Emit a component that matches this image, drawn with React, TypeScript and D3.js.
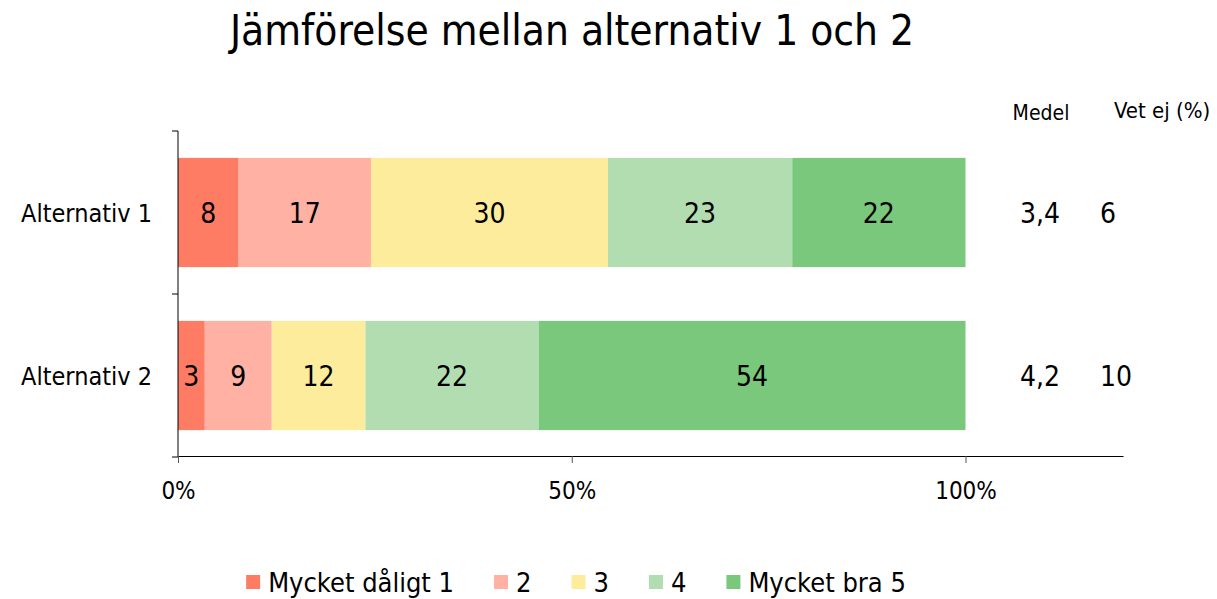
import React, { useEffect, useRef } from "react";
import * as d3 from "d3";

const categories = ["Alternativ 1", "Alternativ 2"];
const seriesNames = ["Mycket dåligt 1", "2", "3", "4", "Mycket bra 5"];
const seriesColors = ["#ff7c64", "#ffb1a3", "#fdec9c", "#b1ddb1", "#79c87b"];
// share in percent
const alt1Values = [7.7, 16.8, 30.1, 23.4, 22.0];
const alt2Values = [3.4, 8.5, 11.9, 22.0, 54.2];
// printed labels
const alt1Labels = ["8", "17", "30", "23", "22"];
const alt2Labels = ["3", "9", "12", "22", "54"];
const medel = ["3,4", "4,2"];
const vetEj = ["6", "10"];
const xTicks = [0, 0.5, 1];

const FONT = "'DejaVu Sans Condensed', 'DejaVu Sans', sans-serif";

export default function App() {
  const ref = useRef<SVGSVGElement>(null);

  useEffect(() => {
    const W = 1217, H = 599;
    const svg = d3.select(ref.current);
    svg.selectAll("*").remove();
    svg.attr("width", W).attr("height", H).style("font-family", FONT);

    const x = d3.scaleLinear().domain([0, 1.2]).range([178, 1123]);
    const y = d3.scaleBand().domain(categories).range([131, 457]);
    const barH = y.bandwidth() * 0.67;

    const rows = [
      { cat: categories[0], vals: alt1Values, labels: alt1Labels },
      { cat: categories[1], vals: alt2Values, labels: alt2Labels },
    ];

    svg
      .append("text")
      .attr("x", 572)
      .attr("y", 45)
      .attr("text-anchor", "middle")
      .style("font-size", "42px")
      .text("Jämförelse mellan alternativ 1 och 2");

    rows.forEach((r) => {
      const cy = y(r.cat)! + y.bandwidth() / 2;
      let acc = 0;
      r.vals.forEach((v, i) => {
        const x0 = x(acc / 100);
        const x1 = x((acc + v) / 100);
        acc += v;
        svg
          .append("rect")
          .attr("x", x0)
          .attr("y", cy - barH / 2)
          .attr("width", x1 - x0)
          .attr("height", barH)
          .attr("fill", seriesColors[i]);
        svg
          .append("text")
          .attr("x", (x0 + x1) / 2)
          .attr("y", cy + 10)
          .attr("text-anchor", "middle")
          .style("font-size", "28px")
          .text(r.labels[i]);
      });
    });

    // y axis with band-edge ticks
    const yAxis = svg.append("g").attr("stroke", "#000");
    yAxis.append("line").attr("x1", 178).attr("x2", 178).attr("y1", 131).attr("y2", 457);
    [131, 131 + y.bandwidth(), 457].forEach((t) => {
      yAxis.append("line").attr("x1", 172).attr("x2", 178).attr("y1", t).attr("y2", t);
    });
    categories.forEach((c) => {
      svg
        .append("text")
        .attr("x", 152)
        .attr("y", y(c)! + y.bandwidth() / 2 + 9)
        .attr("text-anchor", "end")
        .style("font-size", "25px")
        .text(c);
    });

    // x axis
    const xAxis = svg.append("g").attr("transform", "translate(0,456)");
    xAxis
      .call(
        d3
          .axisBottom(x)
          .tickValues(xTicks)
          .tickFormat((d) => `${Math.round(+d * 100)}%`)
          .tickSize(7)
          .tickSizeOuter(0)
      )
      .call((g) => g.select(".domain").attr("stroke", "#000"))
      .call((g) => g.selectAll(".tick line").attr("stroke", "#555"))
      .call((g) =>
        g
          .selectAll(".tick text")
          .attr("y", 26)
          .attr("fill", "#000")
          .style("font-family", FONT)
          .style("font-size", "24px")
      );

    // Medel / Vet ej columns
    svg.append("text").attr("x", 1041).attr("y", 120).attr("text-anchor", "middle")
      .style("font-size", "21px").text("Medel");
    svg.append("text").attr("x", 1114).attr("y", 118)
      .style("font-size", "22px").text("Vet ej (%)");
    categories.forEach((c, i) => {
      const cy = y(c)! + y.bandwidth() / 2 + 10;
      svg.append("text").attr("x", 1040).attr("y", cy).attr("text-anchor", "middle")
        .style("font-size", "28px").text(medel[i]);
      svg.append("text").attr("x", 1100).attr("y", cy)
        .style("font-size", "28px").text(vetEj[i]);
    });

    // legend
    const leg = svg.append("g");
    let lx = 0;
    seriesNames.forEach((n, i) => {
      const g = leg.append("g").attr("transform", `translate(${lx},0)`);
      g.append("rect").attr("x", 0).attr("y", 575).attr("width", 14).attr("height", 14)
        .attr("fill", seriesColors[i]);
      const t = g.append("text").attr("x", 22).attr("y", 592)
        .style("font-size", "27px").text(n);
      const tw = (t.node() as SVGTextElement).getComputedTextLength();
      lx += 22 + tw + 40;
    });
    const total = lx - 40;
    leg.attr("transform", `translate(${576 - total / 2},0)`);
  }, []);

  return (
    <svg
      ref={ref}
      style={{ position: "absolute", left: 0, top: 0, background: "#fff" }}
    />
  );
}
